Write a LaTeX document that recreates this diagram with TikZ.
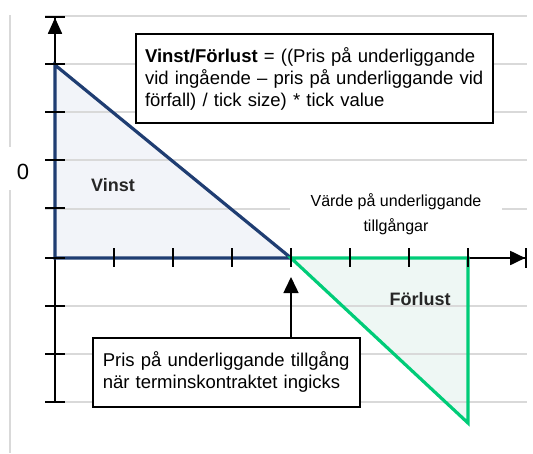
\documentclass[tikz,border=0pt]{standalone}
\usepackage{fontspec}
\setmainfont{Liberation Sans}
\usetikzlibrary{positioning,arrows.meta}

\definecolor{vinstline}{RGB}{31,61,114}
\definecolor{vinstfill}{RGB}{242,244,249}
\definecolor{forlustline}{RGB}{0,204,120}
\definecolor{forlustfill}{RGB}{238,247,244}
\definecolor{gridgray}{RGB}{217,217,217}

\tikzset{
  gridline/.style={draw=gridgray,line width=1.6pt},
  axisline/.style={black,line width=1.8pt},
  tickline/.style={black,line width=1.8pt},
  bigtext/.style={font=\fontsize{18.5}{22}\selectfont},
  textbox/.style={draw=black,fill=white,align=left,inner ysep=0pt,bigtext},
  arealabel/.style={text=black!85,font=\fontsize{18}{22}\selectfont\bfseries},
}

\begin{document}
\begin{tikzpicture}[x=1pt,y=-1pt]
\useasboundingbox (0,0) rectangle (533,453);

\fill[vinstfill] (55,65) -- (55,258) -- (291,258) -- cycle;
\fill[forlustfill] (291,258) -- (468,258) -- (468,423) -- cycle;

\draw[gridline] (10,15) -- (10,147);
\draw[gridline] (10,190) -- (10,453);
\draw[gridline] (45,16) -- (527,16);
\draw[gridline] (45,64) -- (527,64);
\draw[gridline] (45,112) -- (527,112);
\draw[gridline] (45,160) -- (527,160);
\draw[gridline] (45,209) -- (527,209);
\draw[gridline] (45,306) -- (527,306);
\draw[gridline] (45,354) -- (527,354);
\draw[gridline] (45,402) -- (527,402);

\node [textbox,line width=2pt,anchor=north west,text width=339pt,inner xsep=9pt,minimum height=89pt] (formel) at (135,33)
  {\textbf{Vinst/Förlust} = ((Pris på underliggande vid ingående – pris på underliggande vid förfall) / tick size) * tick value};
\node [textbox,line width=1.5pt,anchor=north west,text width=247pt,inner xsep=10pt,minimum height=69pt] (prisbox) at (92,337)
  {Pris på underliggande tillgång\\när terminskontraktet ingicks};
\node [fill=white,align=center,minimum width=212pt,inner ysep=2pt,font=\fontsize{16}{25}\selectfont] (varde) at (396,214)
  {Värde på underliggande\\tillgångar};

\draw[axisline,-{Triangle[length=16pt,width=14pt]Bar[width=20pt]}] (55,402) -- (55,16);
\draw[axisline,-{Triangle[length=15pt,width=14pt]Bar[width=20pt]}] (55,258) -- (527,258);

\draw[vinstline,line width=3.2pt,line join=miter] (55,65) -- (55,258) -- (291,258) -- cycle;
\draw[forlustline,line width=3.2pt,line join=miter] (291,258) -- (468,258) -- (468,423) -- cycle;

% ticks
\draw[tickline] (45,64) -- (65,64);
\draw[tickline] (45,112) -- (65,112);
\draw[tickline] (45,160) -- (65,160);
\draw[tickline] (45,208) -- (65,208);
\draw[tickline] (45,258) -- (65,258);
\draw[tickline] (45,306) -- (65,306);
\draw[tickline] (45,354) -- (65,354);
\draw[tickline] (45,402) -- (65,402);
\draw[tickline] (114,248) -- (114,267);
\draw[tickline] (173,248) -- (173,267);
\draw[tickline] (232,248) -- (232,267);
\draw[tickline] (291,248) -- (291,267);
\draw[tickline] (350,248) -- (350,267);
\draw[tickline] (409,248) -- (409,267);
\draw[tickline] (468,248) -- (468,267);

\coordinate (spets) at (291,277);
\draw[black,line width=1.5pt,-{Triangle[length=16pt,width=15pt]}] (prisbox.north -| spets) -- (spets);

\node [bigtext] (noll) at (23,172) {\fontsize{22}{24}\selectfont 0};
\node [arealabel] (vinst) at (113,185) {Vinst};
\node [arealabel] (forlust) at (420,299) {Förlust};

\end{tikzpicture}
\end{document}
